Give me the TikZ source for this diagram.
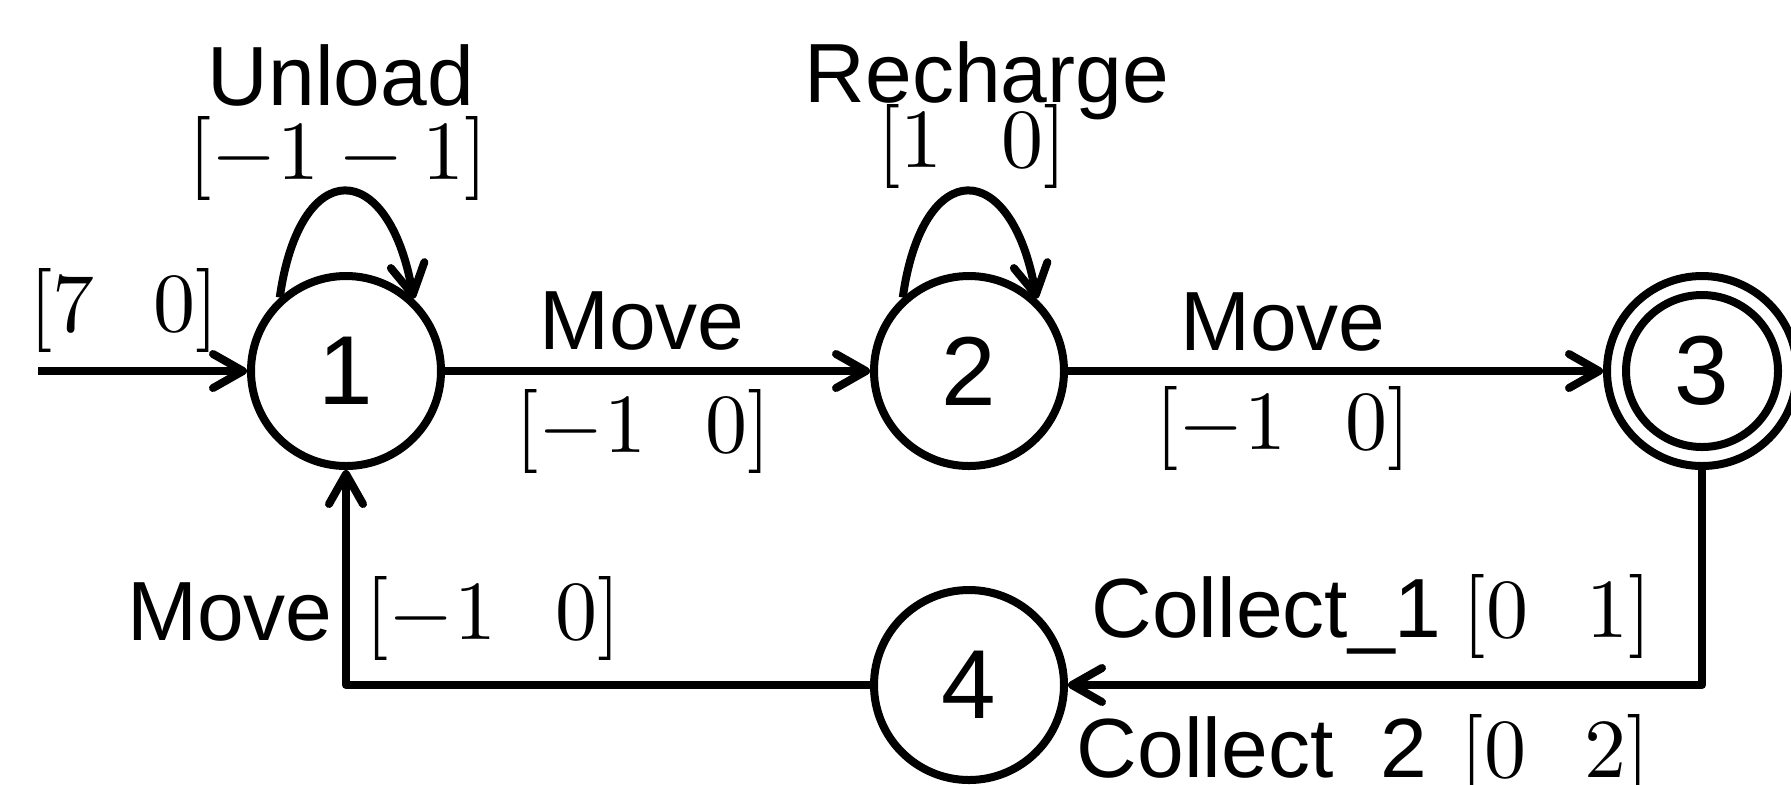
\documentclass[tikz,border=0pt]{standalone}
\usepackage{fontspec}
\newfontfamily\comic{Liberation Sans}
\usetikzlibrary{arrows.meta}
\newcommand\wordfont{\comic\fontsize{42}{50}\selectfont}
\newcommand\smallword{\comic\fontsize{10}{12}\selectfont}
\newcommand\gap{\hspace{0.7em}}
\begin{document}
\begin{tikzpicture}[x=0.5pt,y=-0.5pt, line width=4pt, line join=round,
  >={Straight Barb[length=15pt,width=17pt,round]},
  state/.style={circle,draw,minimum size=95pt,inner sep=0pt,font=\comic\fontsize{49}{58}\selectfont},
  word/.style={font=\wordfont,inner sep=0pt,anchor=base},
  vec/.style={scale=4.2,inner sep=0pt},
  mixed/.style={scale=4.2,inner sep=0pt,anchor=base east}]
\useasboundingbox (0,0) rectangle (1791,784);
% states
\node[state] (n1) at (346,371) {1};
\node[state] (n2) at (969,371) {2};
\node[state] (n3) at (1702,371) {3};
\node[state] (n4) at (969,685) {4};
\draw (n3.center) circle[radius=38pt];
% helper coordinates
\coordinate (start) at (38,371);
\coordinate (c34) at (1702,685);
\coordinate (c41) at (346,685);
% edges
\draw[->] (start) -- (n1);
\draw[->] (n1) -- (n2);
\draw[->] (n2) -- (n3);
\draw[->] (n3) -- (c34) -- (n4);
\draw[->] (n4) -- (c41) -- (n1);
\draw[->] (n1.132) .. controls +(82:72pt) and +(100:72pt) .. (n1.47);
\draw[->] (n2.132) .. controls +(82:72pt) and +(100:72pt) .. (n2.47);
% labels
\node[vec] (l0) at (124,310) {$[7\gap 0]$};
\node[word] (l1a) at (341,105) {Unload};
\node[vec] (l1b) at (338,158) {$[-1 - 1]$};
\node[word] (l2a) at (987,102) {Recharge};
\node[vec] (l2b) at (972,146) {$[1\gap 0]$};
\node[word] (l12a) at (642,349) {Move};
\node[vec] (l12b) at (643,431) {$[-1\gap 0]$};
\node[word] (l23a) at (1283,350) {Move};
\node[vec] (l23b) at (1283,428) {$[-1\gap 0]$};
\node[word] (l41a) at (230,640) {Move};
\node[vec] (l41b) at (493,618) {$[-1\gap 0]$};
\node[mixed] (l34a) at (1669,637) {{\smallword Collect\_1}\hspace{0.25em}$[0\gap 1]$};
\node[mixed] (l34b) at (1667,777) {{\smallword Collect\_2}\hspace{0.4em}$[0\gap 2]$};
\end{tikzpicture}
\end{document}
